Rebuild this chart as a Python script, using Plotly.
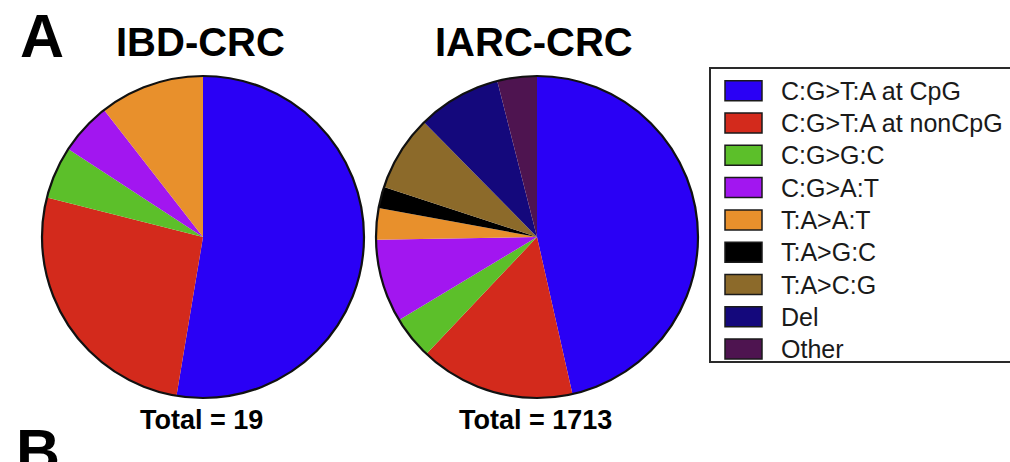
import plotly.graph_objects as go

# Mutation classes and their colours
categories = ["C:G>T:A at CpG", "C:G>T:A at nonCpG", "C:G>G:C", "C:G>A:T",
              "T:A>A:T", "T:A>G:C", "T:A>C:G", "Del", "Other"]
colors = ["#2a00f5", "#d32a1c", "#5cbf2a", "#a216f0", "#e8902c",
          "#000000", "#8c6a2a", "#14087c", "#4e1450"]

# Mutation counts per cohort
ibd_counts = [10, 5, 1, 1, 2, 0, 0, 0, 0]
iarc_counts = [796, 267, 74, 143, 54, 37, 130, 144, 68]

cohort_titles = ["IBD-CRC", "IARC-CRC"]

W, H = 1010, 462
R = 161
centers = [(203, 237), (537, 237)]


def px_x(x):
    return x / W


def px_y(y):
    return 1 - y / H


fig = go.Figure()
for counts, (cx, cy) in zip([ibd_counts, iarc_counts], centers):
    fig.add_trace(go.Pie(
        labels=categories,
        values=counts,
        marker=dict(colors=colors, line=dict(width=0)),
        sort=False,
        direction="clockwise",
        rotation=0,
        textinfo="none",
        showlegend=False,
        domain=dict(x=[px_x(cx - R), px_x(cx + R)],
                    y=[px_y(cy + R), px_y(cy - R)]),
    ))

shapes = []
annotations = []

# Outline around each pie, cohort titles and totals
for (cx, cy), title, counts in zip(centers, cohort_titles, [ibd_counts, iarc_counts]):
    shapes.append(dict(type="circle", xref="paper", yref="paper",
                       x0=px_x(cx - R), x1=px_x(cx + R),
                       y0=px_y(cy + R), y1=px_y(cy - R),
                       line=dict(color="#111111", width=2.2)))
    annotations.append(dict(text=f"<b>{title}</b>", x=px_x(cx - 3), y=px_y(42),
                            xref="paper", yref="paper", showarrow=False,
                            xanchor="center", yanchor="middle",
                            font=dict(family="Liberation Sans", size=40, color="#000")))
    annotations.append(dict(text=f"<b>Total = {sum(counts)}</b>", x=px_x(cx - 2), y=px_y(420),
                            xref="paper", yref="paper", showarrow=False,
                            xanchor="center", yanchor="middle",
                            font=dict(family="Liberation Sans", size=27, color="#000")))

# Panel letters
annotations.append(dict(text="<b>A</b>", x=px_x(18), y=1, xref="paper", yref="paper",
                        showarrow=False, xanchor="left", yanchor="top",
                        font=dict(family="Liberation Sans", size=61, color="#000")))
annotations.append(dict(text="<b>B</b>", x=px_x(14), y=px_y(451), xref="paper", yref="paper",
                        showarrow=False, xanchor="left", yanchor="middle",
                        font=dict(family="Liberation Sans", size=61, color="#000")))

# Legend box
shapes.append(dict(type="rect", xref="paper", yref="paper",
                   x0=px_x(710), x1=px_x(1020), y0=px_y(362), y1=px_y(68),
                   line=dict(color="#2a2a2a", width=2), fillcolor="rgba(0,0,0,0)"))
row0, step = 90.7, 32.3
for i, (lab, col) in enumerate(zip(categories, colors)):
    yc = row0 + i * step
    shapes.append(dict(type="rect", xref="paper", yref="paper",
                       x0=px_x(725), x1=px_x(762), y0=px_y(yc + 10), y1=px_y(yc - 10),
                       fillcolor=col, line=dict(color="#1a1a1a", width=1.5)))
    annotations.append(dict(text=lab, x=px_x(779), y=px_y(yc), xref="paper", yref="paper",
                            showarrow=False, xanchor="left", yanchor="middle",
                            font=dict(family="Liberation Sans", size=25, color="#1a1a1a")))

fig.update_layout(
    width=W, height=H,
    margin=dict(l=0, r=0, t=0, b=0),
    paper_bgcolor="white",
    plot_bgcolor="white",
    shapes=shapes,
    annotations=annotations,
)

fig.write_html("out.html")
